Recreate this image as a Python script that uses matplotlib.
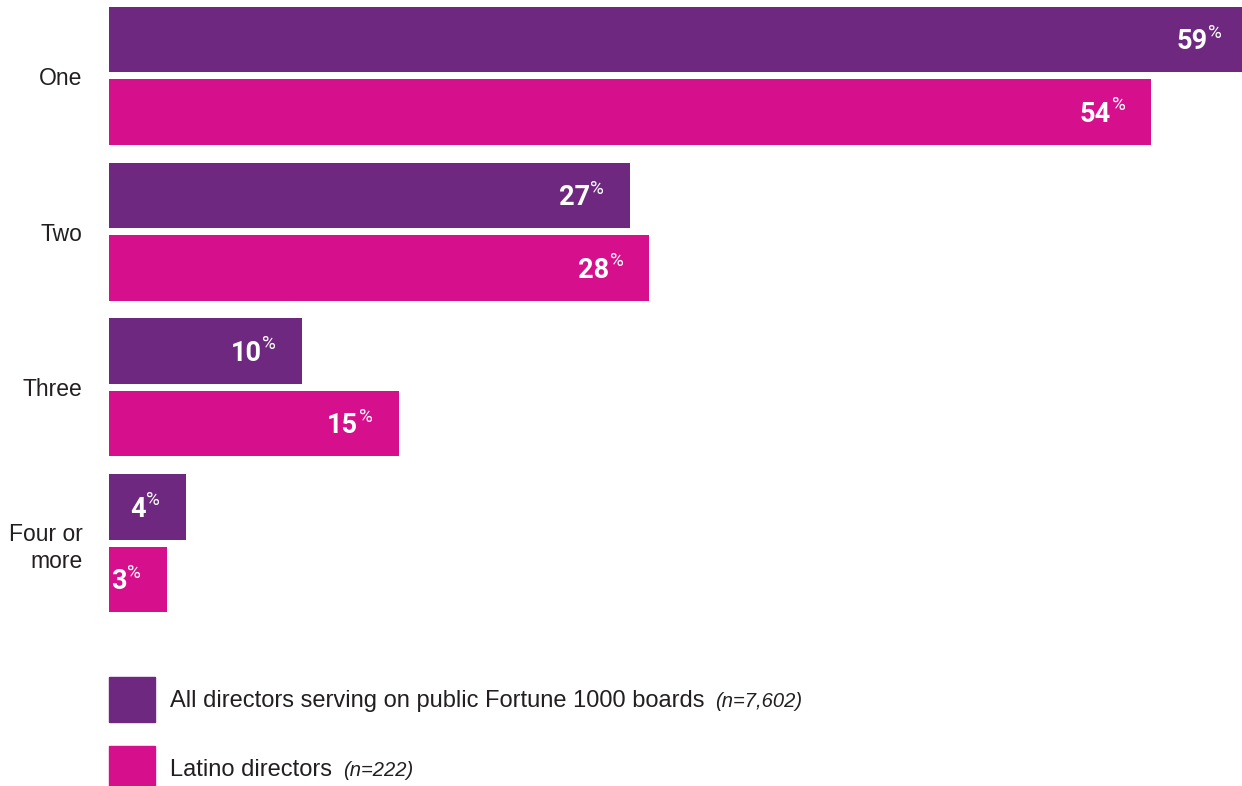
import matplotlib
matplotlib.use('Agg')
import matplotlib.pyplot as plt
import matplotlib.patches as mpatches
import numpy as np

plt.rcParams['font.family'] = ['Liberation Sans', 'DejaVu Sans']

# boards served on, share of directors (%)
categories = ['One', 'Two', 'Three', 'Four or\nmore']
all_directors = [59, 27, 10, 4]
latino_directors = [54, 28, 15, 3]
series_names = ['All directors serving on public Fortune 1000 boards', 'Latino directors']
series_notes = ['(n=7,602)', '(n=222)']

purple = '#6E2880'
pink = '#D60F8C'
text_col = '#231F20'

W, H = 1242, 786
fig = plt.figure(figsize=(W / 100, H / 100), dpi=100)
ax = fig.add_axes([109 / W, 1 - 612 / H, 1 - 109 / W, 605 / H])

ypos = np.arange(len(categories))
off = 0.2325
h = 0.42
ax.barh(ypos - off, all_directors, height=h, color=purple)
ax.barh(ypos + off, latino_directors, height=h, color=pink)

ax.set_xlim(0, 58.7)
ax.set_ylim(len(categories) - 1 + off + h / 2, -off - h / 2)

# white value labels with a small raised % sign
for vals, ys in [(all_directors, ypos - off), (latino_directors, ypos + off)]:
    for v, y in zip(vals, ys):
        ax.annotate(str(v), xy=(v, y), xytext=(-29, -7), textcoords='offset points',
                    ha='right', va='baseline', color='white', fontsize=19.5,
                    fontweight='bold', family=['Roboto', 'DejaVu Sans'],
                    annotation_clip=False)
        ax.annotate('%', xy=(v, y), xytext=(-28.6, 1.2), textcoords='offset points',
                    ha='left', va='baseline', color='white', fontsize=13.5,
                    family=['Roboto', 'DejaVu Sans'], annotation_clip=False)

ax.set_yticks(ypos, categories)
ax.tick_params(axis='y', length=0, pad=19, labelsize=16.5, labelcolor=text_col)
for lab in ax.get_yticklabels():
    lab.set_linespacing(1.25)
ax.set_xticks([])
for s in ax.spines.values():
    s.set_visible(False)

handles = [mpatches.Patch(color=purple), mpatches.Patch(color=pink)]
leg = fig.legend(handles, series_names, loc='upper left',
                 bbox_to_anchor=(109 / W, 1 - 677 / H), frameon=False,
                 fontsize=17, handlelength=1.95, handleheight=2.56, handletextpad=0.62,
                 labelspacing=1.02, borderpad=0, borderaxespad=0)
for t in leg.get_texts():
    t.set_color(text_col)

# sample sizes in smaller italics right after each legend entry
fig.canvas.draw()
for t, note in zip(leg.get_texts(), series_notes):
    bb = t.get_window_extent()
    base_y = t.get_transform().transform(t.get_position())[1]
    fig.text((bb.x1 + 11) / W, base_y / H, note, ha='left', va='baseline',
             fontstyle='italic', fontsize=14.5, color=text_col)

fig.savefig('out.png', dpi=100)
